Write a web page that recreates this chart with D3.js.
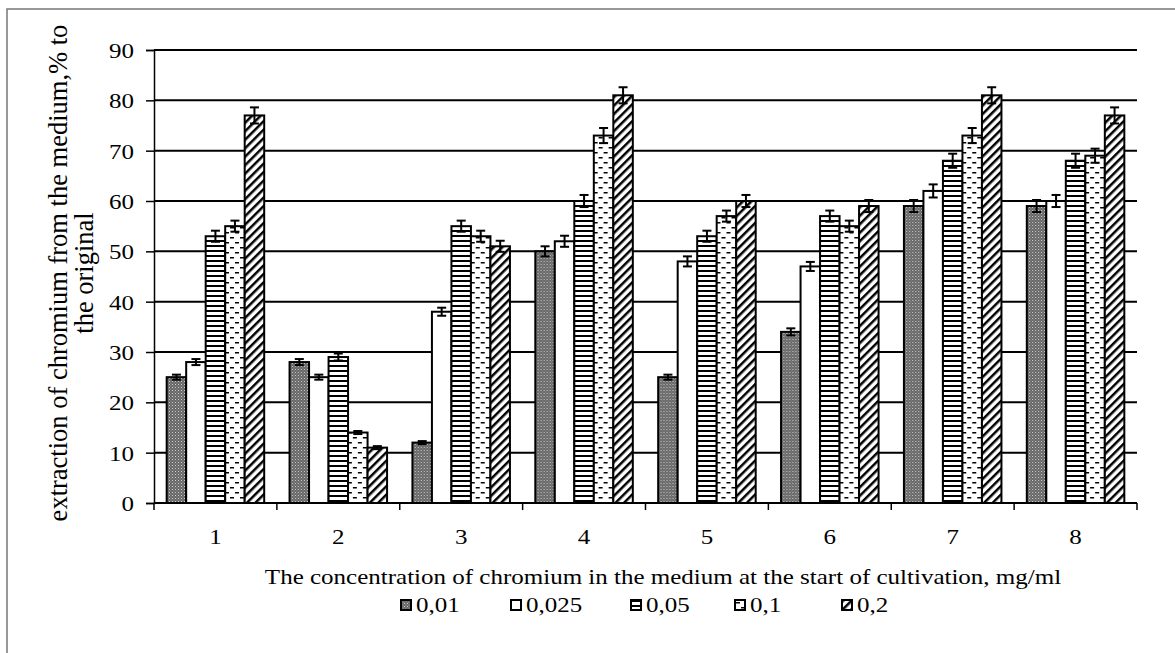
<!DOCTYPE html>
<html>
<head>
<meta charset="utf-8">
<script src="https://cdn.jsdelivr.net/npm/d3@7"></script>
<style>
  body { margin: 0; background: #fff; }
  svg text { font-family: "Liberation Serif", "Times New Roman", serif; fill: #000; }
</style>
</head>
<body>
<svg id="chart" width="1175" height="653"></svg>
<script>
// ── Data ────────────────────────────────────────────────────────────
const categories = ['1', '2', '3', '4', '5', '6', '7', '8'];
const seriesNames = ['0,01', '0,025', '0,05', '0,1', '0,2'];
const values01 = [25, 28, 12, 50, 25, 34, 59, 59];
const values025 = [28, 25, 38, 52, 48, 47, 62, 60];
const values05 = [53, 29, 55, 60, 53, 57, 68, 68];
const values1 = [55, 14, 53, 73, 57, 55, 73, 69];
const values2 = [77, 11, 51, 81, 60, 59, 81, 77];
const errors01 = [0.5, 0.6, 0.3, 1.0, 0.5, 0.7, 1.2, 1.2];
const errors025 = [0.6, 0.5, 0.8, 1.1, 1.0, 0.9, 1.3, 1.2];
const errors05 = [1.1, 0.7, 1.1, 1.2, 1.1, 1.1, 1.4, 1.4];
const errors1 = [1.1, 0.3, 1.1, 1.5, 1.1, 1.1, 1.5, 1.4];
const errors2 = [1.6, 0.3, 1.1, 1.6, 1.2, 1.2, 1.6, 1.6];
const yTicks = [0, 10, 20, 30, 40, 50, 60, 70, 80, 90];

const seriesValues = [values01, values025, values05, values1, values2];
const seriesErrors = [errors01, errors025, errors05, errors1, errors2];
const fills = ['url(#pGray)', '#fff', 'url(#pHoriz)', 'url(#pDash)', 'url(#pDiag)'];

const MARGINS = {left: 154, right: 1137, top: 50, bottom: 503};
const FONT = 25;
const SQUASH = 'scale(1,0.82)';

const svg = d3.select('#chart');

// frame
svg.append('rect').attr('x', 7).attr('y', 9).attr('width', 1200).attr('height', 700)
  .attr('fill', 'none').attr('stroke', '#777').attr('stroke-width', 1.5);

// ── Patterns ────────────────────────────────────────────────────────
const defs = svg.append('defs');
const pGray = defs.append('pattern').attr('id', 'pGray').attr('patternUnits', 'userSpaceOnUse')
  .attr('width', 3).attr('height', 3);
pGray.append('rect').attr('width', 3).attr('height', 3).attr('fill', '#666');
pGray.append('rect').attr('width', 1).attr('height', 1).attr('fill', '#cfcfcf');
pGray.append('rect').attr('x', 1.5).attr('y', 1.5).attr('width', 1).attr('height', 1).attr('fill', '#a0a0a0');

const pHoriz = defs.append('pattern').attr('id', 'pHoriz').attr('patternUnits', 'userSpaceOnUse')
  .attr('width', 10).attr('height', 5);
pHoriz.append('rect').attr('width', 10).attr('height', 5).attr('fill', '#fff');
pHoriz.append('rect').attr('y', 0).attr('width', 10).attr('height', 2).attr('fill', '#000');

const pDash = defs.append('pattern').attr('id', 'pDash').attr('patternUnits', 'userSpaceOnUse')
  .attr('width', 10).attr('height', 10);
pDash.append('rect').attr('width', 10).attr('height', 10).attr('fill', '#fff');
pDash.append('rect').attr('x', 1).attr('y', 2).attr('width', 4).attr('height', 1.5).attr('fill', '#000');
pDash.append('rect').attr('x', 6).attr('y', 7).attr('width', 4).attr('height', 1.5).attr('fill', '#000');

const pDiag = defs.append('pattern').attr('id', 'pDiag').attr('patternUnits', 'userSpaceOnUse')
  .attr('width', 6).attr('height', 6).attr('patternTransform', 'rotate(45)');
pDiag.append('rect').attr('width', 6).attr('height', 6).attr('fill', '#fff');
pDiag.append('rect').attr('x', 0).attr('width', 2.5).attr('height', 6).attr('fill', '#000');

// ── Scales ──────────────────────────────────────────────────────────
const x0 = d3.scaleBand().domain(categories).range([MARGINS.left, MARGINS.right]).padding(0);
const x1 = d3.scaleBand().domain(seriesNames).range([0, x0.bandwidth()])
  .paddingInner(0).paddingOuter(0.65);
const y = d3.scaleLinear().domain([0, 90]).range([MARGINS.bottom, MARGINS.top]);

// gridlines
svg.append('g').selectAll('line').data(yTicks.slice(1)).join('line')
  .attr('x1', MARGINS.left).attr('x2', MARGINS.right)
  .attr('y1', (d) => y(d)).attr('y2', (d) => y(d))
  .attr('stroke', '#000').attr('stroke-width', 2);

// y axis
const yAxis = svg.append('g').attr('transform', `translate(${MARGINS.left},0)`)
  .call(d3.axisLeft(y).tickValues(yTicks).tickSize(8).tickPadding(12));
yAxis.select('.domain').attr('stroke-width', 1.5);
yAxis.selectAll('.tick line').attr('stroke-width', 1.5);
yAxis.selectAll('.tick text').attr('font-size', FONT).attr('dy', '0.36em').attr('transform', SQUASH);

// bars
const groups = svg.append('g').selectAll('g').data(categories).join('g')
  .attr('transform', (c) => `translate(${x0(c)},0)`);

seriesNames.forEach((s, si) =>
{
  groups.append('rect')
    .attr('x', x1(s))
    .attr('width', x1.bandwidth())
    .attr('y', (c, ci) => y(seriesValues[si][ci]))
    .attr('height', (c, ci) => y(0) - y(seriesValues[si][ci]))
    .attr('fill', fills[si])
    .attr('stroke', '#000').attr('stroke-width', 2);
});

// error bars
seriesNames.forEach((s, si) =>
{
  const cx = x1(s) + x1.bandwidth() / 2;
  groups.each(function (c, ci)
  {
    const v = seriesValues[si][ci];
    const e = seriesErrors[si][ci];
    const g = d3.select(this).append('g').attr('stroke', '#000').attr('stroke-width', 2);
    g.append('line').attr('x1', cx).attr('x2', cx).attr('y1', y(v - e)).attr('y2', y(v + e));
    g.append('line').attr('x1', cx - 4.5).attr('x2', cx + 4.5).attr('y1', y(v + e)).attr('y2', y(v + e));
    g.append('line').attr('x1', cx - 4.5).attr('x2', cx + 4.5).attr('y1', y(v - e)).attr('y2', y(v - e));
  });
});

// x axis
const xAxis = svg.append('g').attr('transform', `translate(0,${MARGINS.bottom})`);
xAxis.append('line').attr('x1', MARGINS.left).attr('x2', MARGINS.right)
  .attr('stroke', '#000').attr('stroke-width', 2);
const boundaries = categories.map((c) => x0(c)).concat([MARGINS.right]);
xAxis.selectAll('.xt').data(boundaries).join('line')
  .attr('x1', (d) => d).attr('x2', (d) => d).attr('y1', 0).attr('y2', 7)
  .attr('stroke', '#000').attr('stroke-width', 1.5);
xAxis.selectAll('text').data(categories).join('text')
  .attr('transform', (c) => `translate(${x0(c) + x0.bandwidth() / 2},41) ${SQUASH}`)
  .attr('text-anchor', 'middle').attr('font-size', FONT).text((c) => c);

// axis titles
svg.append('text').attr('transform', `translate(663,584) ${SQUASH}`).attr('text-anchor', 'middle')
  .attr('font-size', FONT)
  .text('The concentration of chromium in the medium at the start of cultivation, mg/ml');

const yTitle = svg.append('text').attr('transform', 'translate(67,273) rotate(-90)')
  .attr('text-anchor', 'middle').attr('font-size', 26.5);
yTitle.append('tspan').attr('x', 0).attr('y', 0).text('extraction of chromium from the medium,% to');
yTitle.append('tspan').attr('x', 0).attr('y', 26).text('the original');

// legend
const legendX = [401, 511, 631, 735, 842];
const legend = svg.append('g').selectAll('g').data(seriesNames).join('g')
  .attr('transform', (d, i) => `translate(${legendX[i]},600)`);
legend.append('rect').attr('width', 10).attr('height', 10)
  .attr('fill', (d, i) => fills[i]).attr('stroke', '#000').attr('stroke-width', 2);
legend.append('text').attr('transform', `translate(15,12) ${SQUASH}`)
  .attr('font-size', FONT).text((d) => d);
</script>
</body>
</html>
